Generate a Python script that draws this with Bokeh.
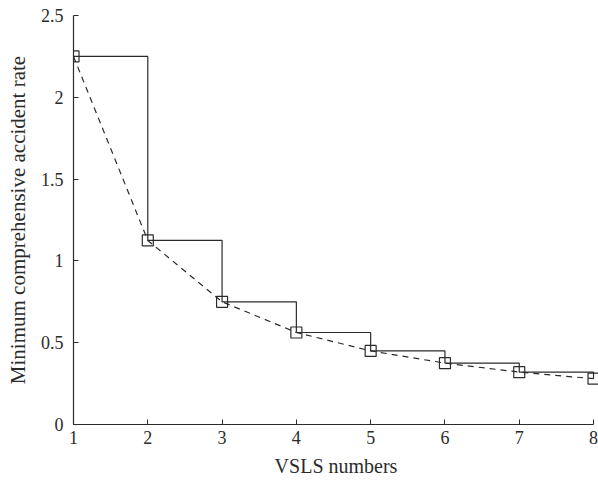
from bokeh.plotting import figure
from bokeh.models import Range1d, FixedTicker
from bokeh.embed import file_html
from bokeh.resources import INLINE

vsls = [1, 2, 3, 4, 5, 6, 7, 8]
rate = [2.25, 1.125, 0.75, 0.5625, 0.45, 0.375, 0.32, 0.28]
y_ticks = [0, 0.5, 1, 1.5, 2, 2.5]
y_tick_labels = ["0", "0.5", "1", "1.5", "2", "2.5"]
x_ticks = [1, 2, 3, 4, 5, 6, 7, 8]

FONT = "Liberation Serif"
INK = "#2b2b2b"

p = figure(width=598, height=487, output_backend="svg", toolbar_location=None,
           x_range=Range1d(1, 8.067), y_range=Range1d(0, 2.5),
           min_border_left=73, min_border_right=0, min_border_top=15, min_border_bottom=63)
p.outline_line_color = None
p.xgrid.visible = False
p.ygrid.visible = False

p.step(vsls, rate, mode="after", line_color=INK, line_width=1.2)
p.line(vsls, rate, line_color=INK, line_width=1.2, line_dash="6 5")
p.scatter(vsls, rate, marker="square", size=11, fill_color=None, line_color=INK, line_width=1.2)

for ax in (p.xaxis, p.yaxis):
    ax.axis_line_color = INK
    ax.axis_line_width = 1.2
    ax.major_tick_line_color = INK
    ax.major_tick_in = 5
    ax.major_tick_out = 0
    ax.minor_tick_line_color = None
    ax.major_label_text_font = FONT
    ax.major_label_text_font_size = "18px"
    ax.major_label_text_color = INK
    ax.axis_label_text_font = FONT
    ax.axis_label_text_font_style = "normal"
    ax.axis_label_text_color = INK

p.xaxis.bounds = (1, 8)
p.xaxis.axis_label_text_font_size = "20px"
p.yaxis.axis_label_text_font_size = "21px"
p.xaxis.ticker = FixedTicker(ticks=x_ticks)
p.yaxis.ticker = FixedTicker(ticks=y_ticks)
p.yaxis.major_label_overrides = {t: l for t, l in zip(y_ticks, y_tick_labels)}
p.xaxis.axis_label = "VSLS numbers"
p.yaxis.axis_label = "Minimum comprehensive accident rate"
p.xaxis.major_label_standoff = 6
p.yaxis.major_label_standoff = 10
p.xaxis.axis_label_standoff = 8
p.yaxis.axis_label_standoff = 8

open("out.html", "w").write(file_html(p, INLINE))
